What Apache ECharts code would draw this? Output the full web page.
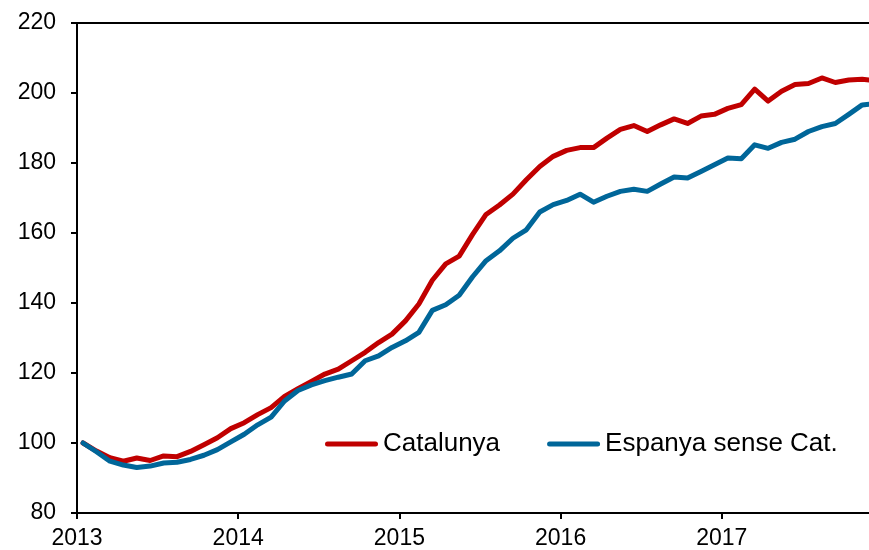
<!DOCTYPE html>
<html>
<head>
<meta charset="utf-8">
<script src="https://cdn.jsdelivr.net/npm/echarts@6/dist/echarts.min.js"></script>
<style>
  html, body { margin: 0; padding: 0; background: #fff; }
  #chart { width: 869px; height: 550px; }
</style>
</head>
<body>
<div id="chart"></div>
<script>
// monthly index, Jan 2013 = 100
var months = [];
for (var y = 2013; y <= 2017; y++) {
  for (var m = 1; m <= 12; m++) months.push(y + '-' + (m < 10 ? '0' + m : m));
}

var catalunya = [
  100.0, 97.7, 95.8, 94.8, 95.7, 95.0, 96.3, 96.1, 97.6, 99.5, 101.5, 104.1,
  105.8, 108.1, 110.1, 113.3, 115.5, 117.6, 119.7, 121.1, 123.5, 125.9, 128.7, 131.1,
  134.9, 139.7, 146.5, 151.2, 153.4, 159.6, 165.3, 168.0, 171.1, 175.2, 179.0, 181.9,
  183.6, 184.4, 184.4, 187.1, 189.6, 190.7, 189.0, 190.9, 192.6, 191.3, 193.4, 193.9,
  195.6, 196.7, 201.1, 197.7, 200.5, 202.4, 202.7, 204.3, 203.0, 203.7, 203.9, 203.5
];

var espanya = [
  100.0, 97.5, 94.8, 93.7, 93.0, 93.4, 94.3, 94.5, 95.3, 96.5, 98.1, 100.3,
  102.5, 105.2, 107.4, 112.0, 115.0, 116.6, 117.8, 118.8, 119.7, 123.5, 124.9, 127.3,
  129.2, 131.6, 137.9, 139.5, 142.2, 147.5, 152.1, 154.9, 158.5, 160.9, 166.0, 168.1,
  169.3, 171.1, 168.8, 170.5, 171.9, 172.5, 171.9, 174.0, 176.0, 175.7, 177.6, 179.5,
  181.4, 181.2, 185.2, 184.2, 185.9, 186.8, 189.0, 190.4, 191.3, 193.9, 196.6, 197.0
];

var seriesNames = ['Catalunya', 'Espanya sense Cat.'];
var yearTicks = ['2013', '2014', '2015', '2016', '2017'];

// x in months since Jan 2013, points sit mid-month
function to_points(values){
  return values.map(function(v, i){
    var parts = months[i].split('-');
    var x = (parseInt(parts[0], 10) - 2013) * 12 + (parseInt(parts[1], 10) - 1) + 0.45;
    return [x, v];
  });
}

function make_line(name, color, values){
  return {
    name: name,
    type: 'line',
    symbol: 'none',
    smooth: false,
    animation: false,
    lineStyle: { color: color, width: 5, cap: 'round', join: 'round' },
    itemStyle: { color: color },
    data: to_points(values)
  };
}

// thick line with round ends for the legend
var pill = 'path://M2.5,0 H50.5 A2.5,2.5 0 0 1 50.5,5 H2.5 A2.5,2.5 0 0 1 2.5,0 Z';

var font = "'Liberation Sans', Arial, sans-serif";
var chart = echarts.init(document.getElementById('chart'));

chart.setOption({
  animation: false,
  backgroundColor: '#fff',
  textStyle: { fontFamily: font },
  grid: {
    left: 77,
    top: 23,
    bottom: 37,
    width: 806,
    outerBoundsMode: 'none',
    containLabel: false,
    show: true,
    borderColor: '#000',
    borderWidth: 2
  },
  legend: {
    left: 325,
    top: 431,
    padding: 0,
    icon: pill,
    itemWidth: 53,
    itemHeight: 5,
    itemGap: 47,
    textStyle: { fontSize: 26, color: '#000', fontFamily: font, padding: [0, 0, 0, 0] },
    data: seriesNames
  },
  xAxis: {
    type: 'value',
    min: 0,
    max: 60,
    interval: 12,
    splitLine: { show: false },
    axisLine: { lineStyle: { color: '#000', width: 2 } },
    axisTick: { show: true, inside: false, length: 6, lineStyle: { color: '#000', width: 2 } },
    axisLabel: {
      fontSize: 23,
      color: '#000',
      margin: 14,
      formatter: function(v){
        var k = Math.round(v / 12);
        return (v % 12 === 0 && k < yearTicks.length) ? yearTicks[k] : '';
      }
    }
  },
  yAxis: {
    type: 'value',
    min: 80,
    max: 220,
    interval: 20,
    splitLine: { show: false },
    axisLine: { show: true, lineStyle: { color: '#000', width: 2 } },
    axisTick: { show: true, inside: false, length: 6, lineStyle: { color: '#000', width: 2 } },
    axisLabel: { fontSize: 23, color: '#000', margin: 21 }
  },
  series: [
    make_line(seriesNames[0], '#C00000', catalunya),
    make_line(seriesNames[1], '#006699', espanya)
  ]
});
</script>
</body>
</html>
